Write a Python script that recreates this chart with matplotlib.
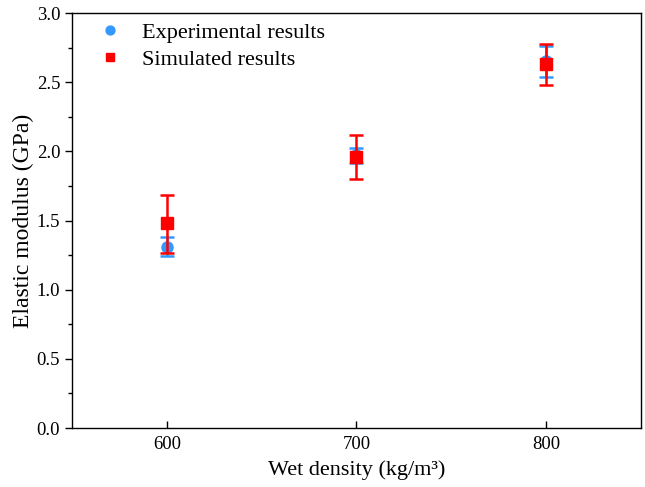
import matplotlib
matplotlib.use("Agg")
import matplotlib.pyplot as plt
from matplotlib.ticker import MultipleLocator

density = [600, 700, 800]
exp_vals = [1.31, 1.97, 2.65]
exp_err = [0.07, 0.055, 0.11]
sim_vals = [1.48, 1.96, 2.63]
sim_err_low = [0.215, 0.16, 0.15]
sim_err_high = [0.205, 0.16, 0.145]

plt.rcParams['font.family'] = ['Liberation Serif', 'DejaVu Serif']

fig = plt.figure(figsize=(6.45, 4.87), dpi=100)
ax = fig.add_axes([0.1116, 0.1211, 0.8822, 0.8522])

ax.errorbar(density, exp_vals, yerr=exp_err, fmt='o', color='#3399FF', ecolor='#3399FF',
            markersize=8, capsize=5, elinewidth=1.8, capthick=1.8, label='Experimental results', zorder=3)
ax.errorbar(density, sim_vals, yerr=[sim_err_low, sim_err_high], fmt='s', color='#FF0000', ecolor='#FF0000',
            markersize=8, capsize=5, elinewidth=1.8, capthick=1.8, label='Simulated results', zorder=4)

ax.set_xlim(550, 850)
ax.set_ylim(0, 3.0)
ax.set_xticks(density)
ax.yaxis.set_major_locator(MultipleLocator(0.5))
ax.yaxis.set_minor_locator(MultipleLocator(0.25))
ax.tick_params(axis='y', which='major', direction='out', length=5, width=1, labelsize=13.5)
ax.tick_params(axis='y', which='minor', direction='out', length=3, width=1)
ax.tick_params(axis='x', which='major', direction='in', length=5, width=1, labelsize=13.5, pad=6)
ax.set_yticklabels([f'{v:.1f}' for v in ax.get_yticks()])
for s in ax.spines.values():
    s.set_linewidth(1.0)

ax.set_xlabel('Wet density (kg/m\u00b3)', fontsize=16, labelpad=5)
ax.set_ylabel('Elastic modulus (GPa)', fontsize=17, labelpad=2)

handles, labels = ax.get_legend_handles_labels()
handles = [h[0] for h in handles]
ax.legend(handles, labels, loc='upper left', bbox_to_anchor=(0.007, 1.002), frameon=False,
          fontsize=16, markerscale=0.8, handletextpad=0.33, borderaxespad=0.15,
          labelspacing=0.3, handlelength=2.2, borderpad=0.3)

fig.savefig('out.png', dpi=100)
